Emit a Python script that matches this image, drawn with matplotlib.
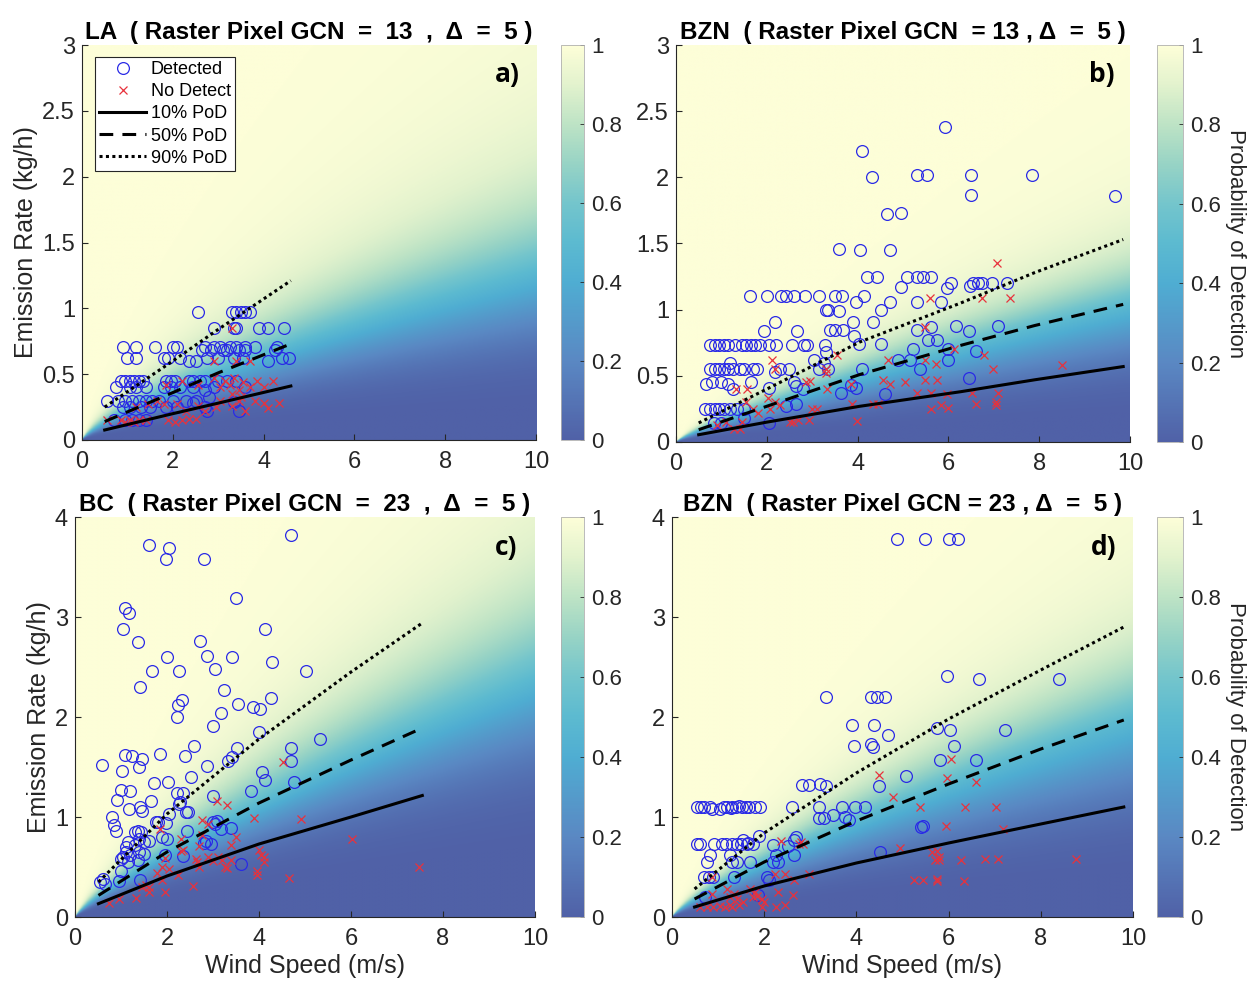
import numpy as np
import matplotlib
matplotlib.use('Agg')
import matplotlib.pyplot as plt
from matplotlib.colors import LinearSegmentedColormap
from matplotlib.lines import Line2D

plt.rcParams['font.family'] = ['Liberation Sans', 'DejaVu Sans']

# ---- panel a: LA, GCN 13 ----
a_det_ws = [2.55, 3.3, 3.4, 3.5, 3.6, 3.7, 2.9, 3.35, 3.4, 3.9, 4.1, 4.45,
            0.9, 1.2, 1.6, 2.0, 2.1, 2.7, 2.9, 3.05, 3.25, 3.4, 3.6, 3.8, 4.3,
            1.0, 1.2, 1.8, 1.9, 2.15, 2.35, 2.5, 2.65, 2.75, 2.85, 3.0, 3.1, 3.2, 3.35, 3.45,
            3.55, 3.6, 4.1, 4.4, 4.55, 4.25,
            0.85, 0.95, 1.05, 1.15, 1.25, 1.35, 1.85, 1.95, 2.05, 2.35, 2.45, 2.6, 2.7, 3.0, 3.2, 3.4,
            0.75, 1.05, 1.2, 1.4, 1.8, 1.95, 2.15, 2.7, 3.6, 2.45, 2.9,
            0.55, 0.8, 0.95, 1.1, 1.25, 1.4, 1.55, 1.7, 2.0, 2.3, 2.5, 2.8, 3.35,
            0.9, 1.05, 1.3, 1.5, 1.85, 2.1, 2.45, 2.7, 3.45, 2.75,
            0.7, 0.95, 1.1, 1.25, 1.4]
a_det_er = [0.97, 0.97, 0.97, 0.97, 0.97, 0.97, 0.85, 0.85, 0.85, 0.85, 0.85, 0.85,
            0.71, 0.71, 0.71, 0.71, 0.71, 0.71, 0.71, 0.71, 0.71, 0.71, 0.71, 0.71, 0.71,
            0.62, 0.62, 0.62, 0.62, 0.62, 0.6, 0.6, 0.68, 0.62, 0.68, 0.62, 0.68, 0.68, 0.62, 0.68,
            0.62, 0.68, 0.6, 0.62, 0.62, 0.68,
            0.45, 0.45, 0.45, 0.45, 0.45, 0.45, 0.45, 0.45, 0.45, 0.45, 0.45, 0.45, 0.45, 0.45, 0.45, 0.45,
            0.4, 0.4, 0.4, 0.4, 0.4, 0.4, 0.4, 0.38, 0.4, 0.4, 0.4,
            0.3, 0.3, 0.3, 0.3, 0.3, 0.3, 0.3, 0.3, 0.3, 0.3, 0.3, 0.33, 0.29,
            0.25, 0.25, 0.25, 0.25, 0.25, 0.25, 0.28, 0.25, 0.22, 0.22,
            0.15, 0.15, 0.15, 0.15, 0.15]
a_nd_ws = [0.55, 0.85, 0.95, 1.05, 1.15, 1.25, 1.4, 1.9, 2.05, 2.2, 2.35, 2.5,
           1.2, 1.45, 1.65, 1.8, 2.1, 2.3, 2.55, 2.7, 2.95, 3.05, 3.3, 3.45, 3.6, 3.8, 4.0, 4.1, 4.35,
           1.85, 2.2, 2.55, 2.9, 3.05, 3.15, 3.25, 3.35, 3.45, 3.55, 3.7, 3.85, 4.0, 4.2, 3.3, 3.5,
           2.9, 3.4, 3.7, 3.3]
a_nd_er = [0.15, 0.15, 0.14, 0.15, 0.14, 0.15, 0.15, 0.15, 0.14, 0.15, 0.16, 0.16,
           0.25, 0.27, 0.3, 0.27, 0.27, 0.22, 0.26, 0.22, 0.25, 0.3, 0.26, 0.3, 0.22, 0.3, 0.28, 0.24, 0.28,
           0.42, 0.45, 0.42, 0.47, 0.4, 0.45, 0.42, 0.47, 0.38, 0.44, 0.4, 0.45, 0.4, 0.45, 0.35, 0.33,
           0.6, 0.6, 0.6, 0.85]
a_line_ws = [0.5, 2.0, 3.0, 4.6]
a_pod10 = [0.076, 0.2, 0.28, 0.41]
a_pod50 = [0.14, 0.36, 0.51, 0.73]
a_pod90 = [0.25, 0.6, 0.84, 1.21]

# ---- panel b: BZN, GCN 13 ----
b_det_ws = [5.92, 4.09, 4.31, 5.31, 5.53, 6.49, 6.49, 7.85, 9.67, 4.64, 4.95, 3.59, 4.05, 4.71,
            4.2, 4.43, 5.08, 5.31, 5.45, 5.62, 4.95, 5.97, 6.05, 6.47, 6.55, 6.65, 6.75, 6.95, 7.29,
            1.63, 2.0, 2.32, 2.43, 2.6, 2.85, 3.16, 3.5, 3.65, 4.13,
            3.96, 4.71, 3.3, 3.35, 3.58, 4.52, 4.34, 2.18,
            1.94, 2.67, 3.4, 3.5, 3.68, 3.9, 3.92, 5.31, 5.61, 6.16, 7.1, 6.46, 5.31, 5.83,
            0.75, 0.85, 0.95, 1.05, 1.15, 1.3, 1.45, 1.55, 1.65, 1.75, 1.85, 2.05, 2.2, 2.56, 2.82, 2.89,
            3.28, 4.02, 4.51,
            0.75, 0.85, 0.95, 1.05, 1.15, 1.25, 1.4, 1.5, 1.7, 1.78, 2.18, 2.3, 2.48, 3.16, 3.34, 4.1,
            1.2, 0.65, 0.8, 1.0, 1.15, 1.25, 1.66, 2.05, 2.6, 2.65, 2.8,
            0.63, 0.75, 0.85, 0.95, 1.05, 1.2, 1.35, 1.5, 1.49, 0.84, 1.0, 2.05, 2.65, 2.43,
            3.05, 3.25, 3.3, 3.64, 3.85, 3.96, 4.61, 4.88, 5.16, 5.23, 5.37, 5.55, 5.74, 6.0, 6.0,
            6.45, 6.6]
b_det_er = [2.38, 2.2, 2.0, 2.02, 2.02, 2.02, 1.87, 2.02, 1.86, 1.72, 1.73, 1.46, 1.45, 1.45,
            1.25, 1.25, 1.25, 1.25, 1.25, 1.25, 1.17, 1.16, 1.2, 1.18, 1.2, 1.2, 1.2, 1.2, 1.2,
            1.1, 1.1, 1.1, 1.1, 1.1, 1.1, 1.1, 1.1, 1.1, 1.1,
            1.06, 1.06, 1.0, 1.0, 0.99, 1.0, 0.91, 0.91,
            0.84, 0.84, 0.85, 0.85, 0.85, 0.91, 0.8, 0.85, 0.87, 0.88, 0.88, 0.84, 1.06, 1.06,
            0.73, 0.73, 0.73, 0.73, 0.73, 0.73, 0.73, 0.73, 0.73, 0.73, 0.73, 0.73, 0.73, 0.73, 0.73, 0.73,
            0.73, 0.74, 0.74,
            0.55, 0.55, 0.55, 0.55, 0.55, 0.55, 0.55, 0.55, 0.55, 0.55, 0.53, 0.55, 0.55, 0.55, 0.55, 0.55,
            0.6, 0.44, 0.45, 0.45, 0.44, 0.4, 0.45, 0.41, 0.45, 0.42, 0.4,
            0.25, 0.25, 0.25, 0.25, 0.25, 0.25, 0.25, 0.25, 0.18, 0.14, 0.14, 0.14, 0.29, 0.27,
            0.62, 0.6, 0.68, 0.37, 0.43, 0.41, 0.36, 0.62, 0.62, 0.7, 0.55, 0.77, 0.77, 0.7, 0.62,
            0.48, 0.69]
b_nd_ws = [7.08, 5.59, 6.73, 7.36, 3.55, 2.11, 4.67, 5.49, 5.49, 5.72, 6.13, 6.78, 6.99, 8.5,
           4.56, 4.71, 5.04, 5.49, 5.74, 5.61, 5.31, 6.52, 7.1, 5.98, 5.61, 6.0, 5.83, 6.6, 7.05, 7.05,
           3.85, 3.88, 3.98, 4.33, 4.45, 3.32, 3.3, 3.3, 2.86, 2.95, 2.18, 2.03, 1.32, 1.57, 1.55, 1.7,
           1.8, 2.06, 2.18, 2.28, 2.52, 2.58, 2.69, 2.92, 3.0, 3.1, 1.27, 1.4, 1.46, 1.1, 0.9]
b_nd_er = [1.35, 1.09, 1.09, 1.09, 0.66, 0.62, 0.62, 0.87, 0.62, 0.59, 0.7, 0.66, 0.55, 0.58,
           0.47, 0.44, 0.45, 0.47, 0.47, 0.37, 0.37, 0.37, 0.37, 0.36, 0.25, 0.26, 0.28, 0.29, 0.3, 0.28,
           0.44, 0.29, 0.16, 0.29, 0.29, 0.4, 0.55, 0.52, 0.45, 0.46, 0.55, 0.33, 0.4, 0.4, 0.3, 0.25,
           0.22, 0.25, 0.3, 0.28, 0.15, 0.15, 0.17, 0.17, 0.25, 0.25, 0.1, 0.1, 0.15, 0.15, 0.13]
b_line_ws = [0.5, 2.0, 4.05, 6.27, 7.9, 9.85]
b_pod10 = [0.055, 0.15, 0.27, 0.38, 0.47, 0.57]
b_pod50 = [0.093, 0.27, 0.51, 0.73, 0.88, 1.04]
b_pod90 = [0.144, 0.4, 0.756, 1.05, 1.28, 1.53]

# ---- panel c: BC, GCN 23 ----
c_det_ws = [4.7, 1.6, 2.04, 1.97, 2.8, 3.5, 1.08, 1.17, 1.04, 4.14, 1.38, 2.72, 2.0, 2.86, 3.41, 4.28,
            1.68, 2.25, 3.05, 5.03, 1.42, 3.23, 2.32, 2.24, 3.55, 3.88, 4.03, 4.26, 2.21, 3.17, 3.0, 4.01,
            5.32, 4.69, 4.7,
            0.59, 1.08, 1.23, 1.39, 1.46, 1.85, 2.39, 2.59, 2.86, 3.41, 3.52, 3.32,
            1.02, 2.52, 1.72, 2.02, 4.07, 4.14, 4.76, 1.0, 1.19, 2.22, 2.34, 3.01, 3.83,
            0.92, 1.66, 1.17, 1.42, 1.46, 2.25, 2.28, 2.04, 2.41, 2.46,
            0.8, 0.85, 0.89, 1.75, 1.81, 1.97, 3.0, 3.08, 3.05,
            1.3, 1.36, 1.43, 2.43, 3.17, 3.4,
            1.5, 1.4, 1.6, 1.1, 1.15, 1.1, 1.05, 1.0, 1.2,
            1.9, 2.0, 1.95, 2.35, 2.8, 2.95, 2.85, 1.38, 1.4, 1.5, 3.61,
            0.6, 0.65, 0.55, 0.95, 1.0, 1.42, 1.15, 1.3]
c_det_er = [3.82, 3.72, 3.69, 3.58, 3.58, 3.19, 3.09, 3.04, 2.88, 2.88, 2.75, 2.76, 2.6, 2.61, 2.6, 2.55,
            2.46, 2.46, 2.48, 2.46, 2.3, 2.27, 2.17, 2.12, 2.13, 2.1, 2.08, 2.19, 2.0, 2.04, 1.91, 1.85,
            1.78, 1.69, 1.56,
            1.52, 1.62, 1.61, 1.5, 1.58, 1.63, 1.61, 1.71, 1.51, 1.6, 1.69, 1.56,
            1.46, 1.4, 1.34, 1.35, 1.45, 1.37, 1.35, 1.27, 1.26, 1.24, 1.24, 1.21, 1.26,
            1.17, 1.16, 1.08, 1.1, 1.06, 1.13, 1.15, 1.03, 1.05, 1.05,
            1.0, 0.92, 0.86, 0.95, 0.95, 0.94, 0.95, 0.96, 0.93,
            0.85, 0.86, 0.85, 0.86, 0.88, 0.89,
            0.75, 0.78, 0.76, 0.7, 0.75, 0.65, 0.6, 0.58, 0.62,
            0.8, 0.78, 0.62, 0.61, 0.74, 0.73, 0.76, 0.57, 0.65, 0.63, 0.53,
            0.38, 0.33, 0.35, 0.36, 0.46, 0.37, 0.55, 0.72]
c_nd_ws = [4.53, 3.08, 3.3, 3.9, 4.92, 2.75, 2.9, 6.02, 7.47, 4.66, 2.3, 2.35, 2.3, 1.84, 2.75,
           2.7, 2.64, 3.2, 3.0, 3.4, 3.4, 3.5, 3.25, 3.3, 4.0, 4.05, 4.1, 4.1, 3.95, 3.95, 2.24, 2.56,
           1.96, 1.9, 1.95, 1.79, 1.6, 1.6, 1.33, 0.95, 0.73, 1.45, 1.55, 2.05, 1.9, 2.65, 2.7, 3.1, 2.9]
c_nd_er = [1.55, 1.16, 1.12, 0.99, 0.98, 0.97, 0.93, 0.78, 0.5, 0.39, 0.78, 0.67, 0.66, 0.88, 0.82,
           0.71, 0.58, 0.57, 0.56, 0.72, 0.57, 0.8, 0.5, 0.49, 0.67, 0.62, 0.6, 0.55, 0.46, 0.42, 0.42, 0.31,
           0.59, 0.37, 0.25, 0.44, 0.3, 0.25, 0.19, 0.18, 0.14, 0.3, 0.32, 0.48, 0.5, 0.55, 0.5, 0.6, 0.6]
c_line_ws = [0.51, 2.0, 4.0, 6.0, 7.55]
c_pod10 = [0.133, 0.41, 0.73, 1.0, 1.215]
c_pod50 = [0.216, 0.65, 1.14, 1.57, 1.89]
c_pod90 = [0.35, 1.03, 1.78, 2.45, 2.94]

# ---- panel d: BZN, GCN 23 ----
d_det_ws = [4.88, 5.48, 6.0, 6.21, 5.96, 6.67, 8.4, 3.35, 4.32, 4.44, 4.63, 3.91, 4.38, 4.69, 3.94,
            4.32, 4.35, 5.74, 6.04, 6.12, 7.23, 5.81, 6.6, 5.07, 4.49, 2.81, 2.98, 3.2, 3.35,
            0.55, 0.62, 0.7, 0.82, 0.87, 1.05, 1.12, 1.2, 1.27, 1.3, 1.38, 1.45, 1.52, 1.6, 1.68, 1.8, 1.9,
            2.6, 3.19, 3.68, 3.98, 4.18, 3.18, 3.3, 3.49, 3.75, 3.85,
            0.54, 0.6, 0.92, 1.08, 1.18, 1.3, 1.4, 1.5, 1.62, 1.75, 1.55, 1.65, 1.88, 2.2, 2.25, 2.2, 2.3,
            2.7, 2.65, 2.65, 2.05, 2.1, 1.87, 1.34, 0.8, 0.9, 0.7, 0.77, 0.83, 1.25, 1.3, 1.4, 1.7, 0.71,
            2.52, 4.51, 5.45, 5.4]
d_det_er = [3.78, 3.78, 3.78, 3.78, 2.41, 2.38, 2.38, 2.2, 2.2, 2.2, 2.2, 1.92, 1.92, 1.82, 1.71,
            1.73, 1.7, 1.89, 1.87, 1.71, 1.87, 1.57, 1.57, 1.41, 1.31, 1.32, 1.32, 1.33, 1.31,
            1.1, 1.1, 1.1, 1.1, 1.08, 1.08, 1.1, 1.1, 1.09, 1.1, 1.1, 1.11, 1.1, 1.1, 1.1, 1.1, 1.1,
            1.1, 1.1, 1.1, 1.1, 1.1, 0.99, 0.99, 1.02, 1.0, 0.97,
            0.73, 0.73, 0.73, 0.73, 0.73, 0.73, 0.73, 0.73, 0.73, 0.73, 0.77, 0.74, 0.81, 0.72, 0.62, 0.55, 0.55,
            0.8, 0.77, 0.62, 0.4, 0.37, 0.22, 0.4, 0.4, 0.4, 0.4, 0.55, 0.62, 0.62, 0.55, 0.55, 0.55, 0.2,
            0.71, 0.65, 0.91, 0.9]
d_nd_ws = [6.05, 4.49, 5.96, 6.6, 4.8, 5.37, 6.36, 7.02, 5.94, 7.19, 4.95, 5.64, 5.75, 5.8, 5.7, 5.8,
           6.26, 6.79, 7.08, 8.76, 5.26, 5.44, 5.75, 5.75, 6.33, 2.36, 2.8, 2.75, 2.85, 2.98, 2.24, 2.45,
           2.64, 2.3, 2.62, 1.7, 1.8, 1.85, 1.95, 2.0, 1.95, 2.25, 2.45, 1.19, 1.35, 1.25, 1.4, 0.86,
           0.6, 0.75, 0.9, 1.05, 1.15, 1.25, 1.3, 1.45, 1.55, 0.86, 1.75]
d_nd_er = [1.58, 1.42, 1.39, 1.35, 1.2, 1.1, 1.1, 1.1, 0.91, 0.88, 0.69, 0.65, 0.66, 0.6, 0.57, 0.57,
           0.57, 0.58, 0.58, 0.58, 0.37, 0.37, 0.38, 0.36, 0.36, 0.76, 0.75, 0.73, 0.73, 0.43, 0.43, 0.43,
           0.37, 0.25, 0.22, 0.28, 0.25, 0.21, 0.18, 0.15, 0.1, 0.1, 0.12, 0.28, 0.23, 0.2, 0.18, 0.23,
           0.1, 0.1, 0.1, 0.11, 0.1, 0.12, 0.1, 0.12, 0.15, 0.4, 0.2]
d_line_ws = [0.49, 2.0, 4.0, 6.0, 8.0, 9.8]
d_pod10 = [0.1, 0.31, 0.54, 0.74, 0.93, 1.1]
d_pod50 = [0.18, 0.55, 0.96, 1.33, 1.68, 1.97]
d_pod90 = [0.28, 0.84, 1.44, 1.98, 2.47, 2.9]

# background PoD surface: Q50 = c * u^b, ratio of 10% / 90% curves to the 50% curve
pod_c50 = [0.2345, 0.159, 0.3727, 0.318]
pod_b = [0.744, 0.82, 0.81, 0.80]
pod_r10 = [0.55, 0.55, 0.62, 0.56]
pod_r90 = [1.7, 1.5, 1.57, 1.5]

titles = ['LA  ( Raster Pixel GCN  =  13  ,  \u0394  =  5 )',
          'BZN  ( Raster Pixel GCN  = 13 , \u0394  =  5 )',
          'BC  ( Raster Pixel GCN  =  23  ,  \u0394  =  5 )',
          'BZN  ( Raster Pixel GCN = 23 , \u0394  =  5 )']
letters = ['a)', 'b)', 'c)', 'd)']
ymax = [3, 3, 4, 4]

cmap = LinearSegmentedColormap.from_list('pod', [
    (0.0, '#5061a7'), (0.2, '#5a88c3'), (0.4, '#4fadd2'), (0.5, '#5cbad0'),
    (0.6, '#74c5cc'), (0.7, '#97d3c5'), (0.8, '#bde3c5'), (0.9, '#e2f2cd'), (1.0, '#fdfed8')])

W, H = 1254, 985
fig = plt.figure(figsize=(W / 100, H / 100), dpi=100)

def fx(px):
    return px / W

def fy(top, bottom):
    return 1 - bottom / H, (bottom - top) / H

ax_px = [(82, 536, 45, 440), (676, 1130, 45, 442), (75, 535, 517, 917), (672, 1133, 517, 917)]
cb_px = [(561, 584), (1157, 1183), (561, 584), (1157, 1183)]

panels = [
    (a_det_ws, a_det_er, a_nd_ws, a_nd_er, a_line_ws, a_pod10, a_pod50, a_pod90),
    (b_det_ws, b_det_er, b_nd_ws, b_nd_er, b_line_ws, b_pod10, b_pod50, b_pod90),
    (c_det_ws, c_det_er, c_nd_ws, c_nd_er, c_line_ws, c_pod10, c_pod50, c_pod90),
    (d_det_ws, d_det_er, d_nd_ws, d_nd_er, d_line_ws, d_pod10, d_pod50, d_pod90),
]

blue = '#2a2ae6'
red = '#e8323c'

for i, (dws, der, nws, ner, lws, p10, p50, p90) in enumerate(panels):
    l, r, t, b = ax_px[i]
    y0, h = fy(t, b)
    ax = fig.add_axes([fx(l), y0, fx(r - l), h])
    cax = fig.add_axes([fx(cb_px[i][0]), y0, fx(cb_px[i][1] - cb_px[i][0]), h])

    # probability surface
    u = np.linspace(0.005, 10, 500)
    q = np.linspace(0.002, ymax[i], 500)
    U, Q = np.meshgrid(u, q)
    z = np.log(Q / (pod_c50[i] * U ** pod_b[i]))
    k_lo = np.log(9) / -np.log(pod_r10[i])
    k_hi = np.log(9) / np.log(pod_r90[i])
    k = np.where(z < 0, k_lo, k_hi)
    pod = 1 / (1 + np.exp(-k * z))
    im = ax.imshow(pod, extent=[0, 10, 0, ymax[i]], origin='lower', aspect='auto',
                   cmap=cmap, vmin=0, vmax=1, interpolation='bilinear')

    ax.plot(dws, der, 'o', mfc='none', mec=blue, ms=8.5, mew=0.9)
    ax.plot(nws, ner, 'x', color=red, ms=5.5, mew=0.9)
    ax.plot(lws, p10, '-', color='k', lw=2.2)
    ax.plot(lws, p50, color='k', lw=2.2, dashes=(4.5, 3))
    ax.plot(lws, p90, color='k', lw=2.2, dashes=(1, 1.1))

    ax.set_xlim(0, 10)
    ax.set_ylim(0, ymax[i])
    ax.set_xticks([0, 2, 4, 6, 8, 10])
    if ymax[i] == 3:
        ax.set_yticks([0, 0.5, 1, 1.5, 2, 2.5, 3])
        ax.set_yticklabels(['0', '0.5', '1', '1.5', '2', '2.5', '3'])
    else:
        ax.set_yticks([0, 1, 2, 3, 4])
    ax.tick_params(direction='in', length=4, width=0.8, labelsize=17, colors='#262626', pad=5)
    ax.tick_params(axis='x', pad=8)
    for s in ['top', 'right']:
        ax.spines[s].set_visible(False)
    for s in ['left', 'bottom']:
        ax.spines[s].set_color('#262626')
        ax.spines[s].set_linewidth(0.8)

    ax.set_title(titles[i], fontsize=17.5, fontweight='bold', pad=4)
    ax.text(0.937, 0.925, letters[i], transform=ax.transAxes, ha='center', va='center',
            fontsize=19, fontweight='bold', family=['Open Sans', 'DejaVu Sans'])
    if i % 2 == 0:
        ax.set_ylabel('Emission Rate (kg/h)', fontsize=18, color='#262626', labelpad=3)
    if i >= 2:
        ax.set_xlabel('Wind Speed (m/s)', fontsize=18, color='#262626', labelpad=3)

    cb = fig.colorbar(im, cax=cax, ticks=[0, 0.2, 0.4, 0.6, 0.8, 1])
    cb.set_ticklabels(['0', '0.2', '0.4', '0.6', '0.8', '1'])
    cb.ax.tick_params(direction='in', length=3, width=0.6, labelsize=16, colors='#262626', pad=5)
    cb.outline.set_edgecolor('#b0b0b0')
    cb.outline.set_linewidth(0.6)
    if i % 2 == 1:
        cb.set_label('Probability of Detection', fontsize=16, rotation=270, labelpad=18, color='#262626')

    if i == 0:
        handles = [
            Line2D([], [], ls='none', marker='o', mfc='none', mec=blue, ms=8.5, mew=0.9),
            Line2D([], [], ls='none', marker='x', color=red, ms=5.5, mew=0.9),
            Line2D([], [], color='k', lw=2.2),
            Line2D([], [], color='k', lw=2.2, dashes=(4.5, 3)),
            Line2D([], [], color='k', lw=2.2, dashes=(1, 1.1)),
        ]
        leg = ax.legend(handles, ['Detected', 'No Detect', '10% PoD', '50% PoD', '90% PoD'],
                        loc='upper left', bbox_to_anchor=(0.028, 0.97), borderaxespad=0,
                        fontsize=13, handlelength=2.6, handletextpad=0.25, labelspacing=0.28,
                        borderpad=0.25, fancybox=False, framealpha=1, edgecolor='#262626')
        leg.get_frame().set_linewidth(0.8)

fig.savefig('out.png', dpi=100)
